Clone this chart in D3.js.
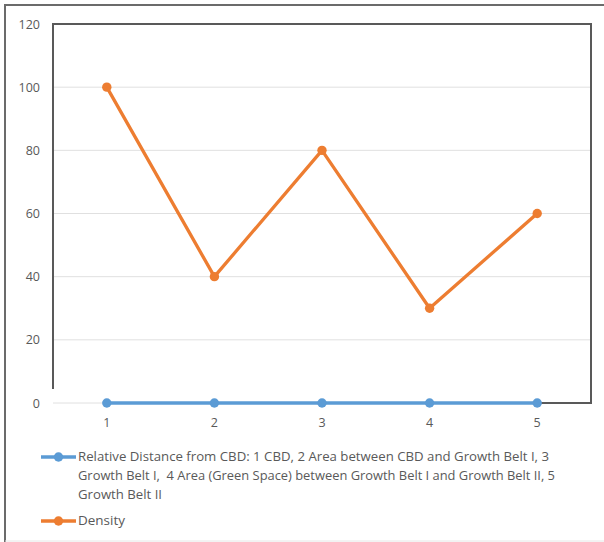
<!DOCTYPE html>
<html><head><meta charset="utf-8">
<script src="https://cdn.jsdelivr.net/npm/d3@7"></script>
<style>body{margin:0;background:#fff}svg{display:block}text{font-family:"Open Sans",sans-serif;white-space:pre}</style>
</head><body><svg id="c" width="604" height="542"></svg>
<script>
const categories = [1, 2, 3, 4, 5];
const distanceValues = [0, 0, 0, 0, 0];
const densityValues = [100, 40, 80, 30, 60];
const yTicks = [0, 20, 40, 60, 80, 100, 120];
const seriesNames = ["Relative Distance from CBD: 1 CBD, 2 Area between CBD and Growth Belt I, 3",
  "Growth Belt I,  4 Area (Green Space) between Growth Belt I and Growth Belt II, 5",
  "Growth Belt II"];
const densityName = "Density";

const svg = d3.select("#c");
const L = 53, R = 591, T = 24, B = 403;
const x = d3.scaleBand().domain(categories).range([L, R]);
const cx = d => x(d) + x.bandwidth() / 2;
const y = d3.scaleLinear().domain([0, 120]).range([B, T]);

// outer frame
svg.append("line").attr("x1", 5).attr("x2", 5).attr("y1", 5).attr("y2", 542).attr("stroke", "#6b6b6b").attr("stroke-width", 2);
svg.append("line").attr("x1", 4).attr("x2", 604).attr("y1", 5).attr("y2", 5).attr("stroke", "#6b6b6b").attr("stroke-width", 2);
svg.append("line").attr("x1", 5).attr("x2", 604).attr("y1", 541).attr("y2", 541).attr("stroke", "#e6e6e6").attr("stroke-width", 1);

// gridlines
svg.append("g").selectAll("line").data(yTicks).join("line")
  .attr("x1", L).attr("x2", R).attr("y1", d => y(d)).attr("y2", d => y(d))
  .attr("stroke", "#e0e0e0").attr("stroke-width", 1);

// inner frame
svg.append("path").attr("d", `M${L},${B - 14}V${T}H${R}V${B}H${cx(5)}`)
  .attr("fill", "none").attr("stroke", "#595959").attr("stroke-width", 2);

// y tick labels
svg.append("g").selectAll("text").data(yTicks).join("text")
  .attr("x", 40).attr("y", d => y(d) + 4.5).attr("text-anchor", "end")
  .attr("font-size", 12.5).attr("fill", "#595959").text(d => d);

// x tick labels
svg.append("g").selectAll("text").data(categories).join("text")
  .attr("x", d => cx(d)).attr("y", 427).attr("text-anchor", "middle")
  .attr("font-size", 12.5).attr("fill", "#595959").text(d => d);

const line = d3.line().x((d, i) => cx(categories[i])).y(d => y(d));
function series(vals, color) {
  svg.append("path").datum(vals).attr("d", line).attr("fill", "none")
    .attr("stroke", color).attr("stroke-width", 3.3).attr("stroke-linejoin", "round");
  svg.append("g").selectAll("circle").data(vals).join("circle")
    .attr("cx", (d, i) => cx(categories[i])).attr("cy", d => y(d)).attr("r", 4.7).attr("fill", color);
}
series(distanceValues, "#5B9BD5");
series(densityValues, "#ED7D31");

// legend
function legendKey(yy, color) {
  svg.append("line").attr("x1", 41).attr("x2", 76).attr("y1", yy).attr("y2", yy).attr("stroke", color).attr("stroke-width", 3.3);
  svg.append("circle").attr("cx", 58.5).attr("cy", yy).attr("r", 4.7).attr("fill", color);
}
legendKey(457, "#5B9BD5");
legendKey(521, "#ED7D31");
const widths = [471, 477, 84];
seriesNames.forEach((t, i) => {
  svg.append("text").attr("x", 78).attr("y", 461 + i * 19).attr("font-size", 13)
    .attr("fill", "#595959").attr("textLength", widths[i]).attr("lengthAdjust", "spacingAndGlyphs").text(t);
});
svg.append("text").attr("x", 78).attr("y", 525).attr("font-size", 13).attr("fill", "#595959")
  .attr("textLength", 47).attr("lengthAdjust", "spacingAndGlyphs").text(densityName);
</script></body></html>
